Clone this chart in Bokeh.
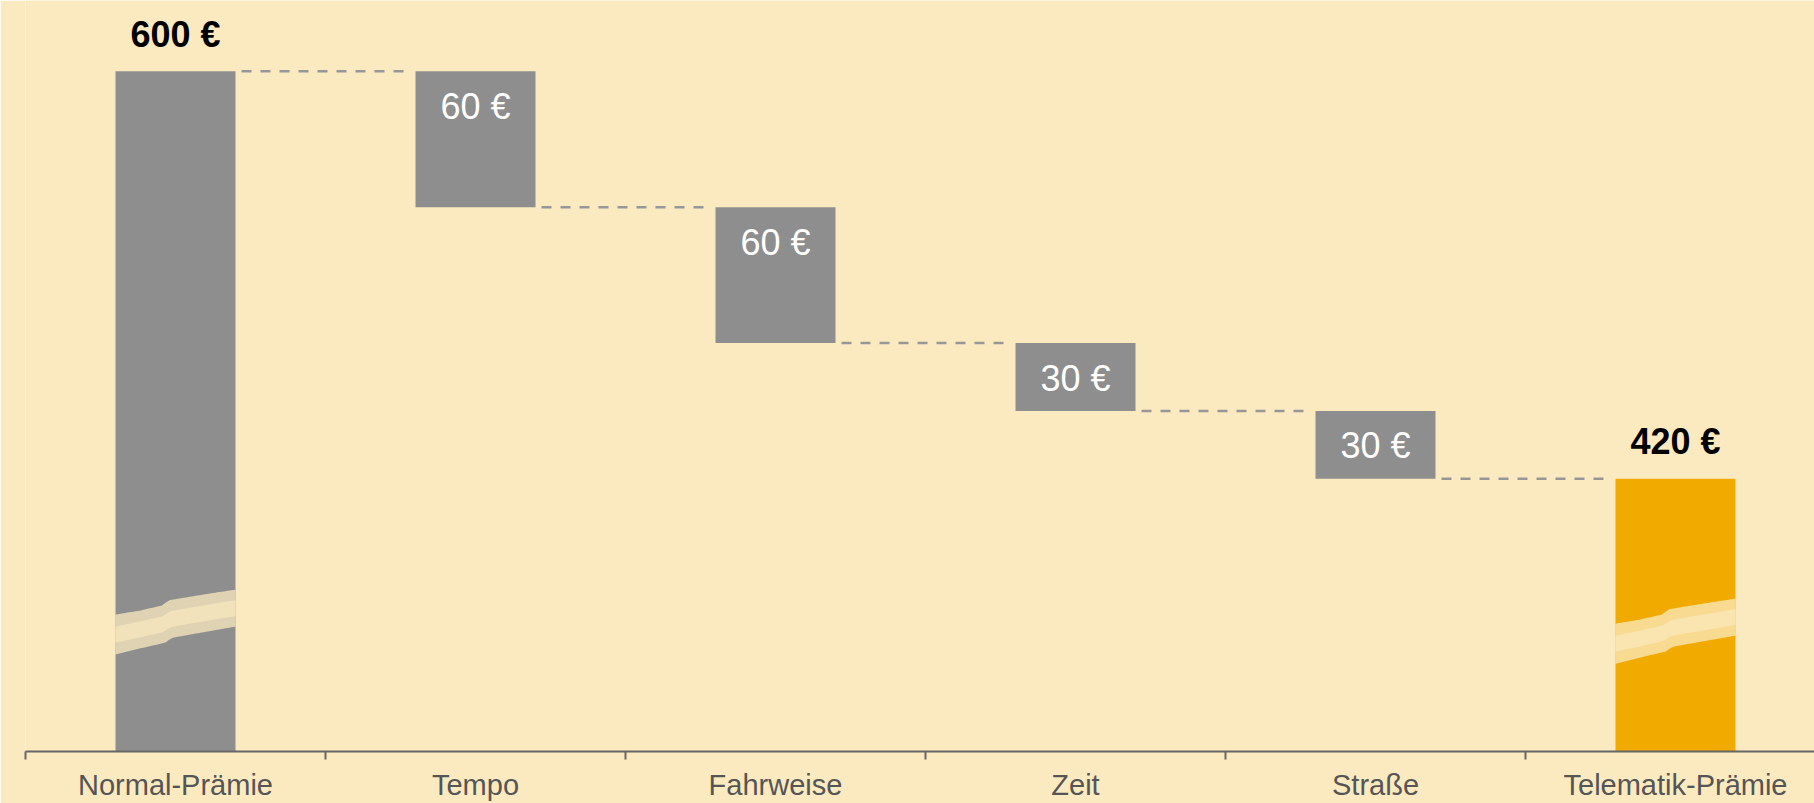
import numpy as np
from bokeh.plotting import figure
from bokeh.models import Range1d, FixedTicker
from bokeh.core.properties import value
from bokeh.embed import file_html
from bokeh.resources import INLINE

# ---------------- data ----------------
categories = ["Normal-Prämie", "Tempo", "Fahrweise", "Zeit", "Straße", "Telematik-Prämie"]
start_total = 600
reductions = [60, 60, 30, 30]
end_total = 420
total_labels = ["600 €", "420 €"]
reduction_labels = ["60 €", "60 €", "30 €", "30 €"]
axis_floor = 299.56          # value at the (broken) baseline
axis_top = 631.3
break_levels = [358.7, 354.7]  # where the break marks sit on the two total bars

# ---------------- styles ----------------
BG = "#FBEAC0"
GRAY = "#8E8E8E"
ORANGE = "#F0AA00"
AXIS = "#666666"
FONT = "Liberation Sans"
PX_PER_UNIT = 2.2667
BAR_W = 0.4

centers = [i + 0.5 for i in range(len(categories))]

tops, bottoms, colors = [start_total], [0], [GRAY]
running = start_total
for d in reductions:
    tops.append(running)
    bottoms.append(running - d)
    colors.append(GRAY)
    running -= d
tops.append(end_total)
bottoms.append(0)
colors.append(ORANGE)

p = figure(width=1814, height=803,
           x_range=Range1d(0, 1789 / 300), y_range=Range1d(axis_floor, axis_top),
           output_backend="svg", toolbar_location=None,
           min_border_left=25, min_border_right=0, min_border_top=0, min_border_bottom=51,
           background_fill_color=BG, border_fill_color=BG, outline_line_color=None,
           y_axis_location=None)
p.xgrid.visible = False
p.ygrid.visible = False

# bars
p.vbar(x=centers, width=BAR_W, top=tops, bottom=bottoms, fill_color=colors, line_color=None)

# dashed connectors
x0, x1, lv = [], [], []
for i in range(len(categories) - 1):
    x0.append(centers[i] + BAR_W / 2 + 0.02)
    x1.append(centers[i + 1] - BAR_W / 2 - 0.01)
    lv.append(tops[i + 1])
p.segment(x0=x0, y0=lv, x1=x1, y1=lv, line_color="#979797", line_width=2.5, line_dash="10 9")

# break marks (shape in px relative to the bar's left edge and break level)
top_edge = [(0, -3), (24, -7), (46, -12), (50, -15), (54, -17.5), (75, -21), (100, -25), (120, -28)]
bot_edge = [(0, 37), (24, 31), (50, 25), (54, 22), (58, 20), (80, 16), (100, 12.5), (120, 9)]
grid = np.linspace(0, 120, 61)
tx = np.interp(grid, [a for a, b in top_edge], [b for a, b in top_edge])
bx = np.interp(grid, [a for a, b in bot_edge], [b for a, b in bot_edge])
mid = (tx + bx) / 2
outer_xs, outer_ys, inner_xs, inner_ys = [], [], [], []
for idx, lvl in zip([0, len(categories) - 1], break_levels):
    left = centers[idx] - BAR_W / 2
    xs = left + grid / 120 * BAR_W
    xs_full = list(xs) + list(xs[::-1])
    outer_xs.append(xs_full)
    outer_ys.append(list(lvl - tx / PX_PER_UNIT) + list((lvl - bx / PX_PER_UNIT)[::-1]))
    inner_xs.append(xs_full)
    inner_ys.append(list(lvl - (mid - 8) / PX_PER_UNIT) + list((lvl - (mid + 8) / PX_PER_UNIT)[::-1]))
p.patches(outer_xs, outer_ys, fill_color=BG, fill_alpha=0.75, line_color=None)
p.patches(inner_xs, inner_ys, fill_color=BG, fill_alpha=0.65, line_color=None)

# value labels
p.text(x=[centers[0], centers[-1]], y=[tops[0], tops[-1]], text=total_labels,
       text_font=value(FONT), text_font_size="36px", text_font_style="bold",
       text_color="black", text_align="center", text_baseline="alphabetic", y_offset=-37)
p.text(x=centers[1:-1], y=tops[1:-1], text=reduction_labels,
       text_font=value(FONT), text_font_size="36px", text_color="white",
       text_align="center", text_baseline="middle", y_offset=35)

# x axis: boundary ticks, category labels at centres
ax = p.xaxis[0]
ax.ticker = FixedTicker(ticks=centers, minor_ticks=list(range(len(categories) + 1)))
ax.major_label_overrides = {c: lab for c, lab in zip(centers, categories)}
ax.major_tick_in = 0
ax.major_tick_out = 0
ax.minor_tick_in = 0
ax.minor_tick_out = 8
ax.minor_tick_line_color = AXIS
ax.minor_tick_line_width = 2
ax.axis_line_color = AXIS
ax.axis_line_width = 2
ax.major_label_text_font = FONT
ax.major_label_text_font_size = "29px"
ax.major_label_text_color = "#555555"
ax.major_label_standoff = 9

html = file_html(p, INLINE, title="Telematik-Prämie")
html = html.replace("<body>", '<body style="background-color:#FBEAC0;">', 1)
open("out.html", "w").write(html)
